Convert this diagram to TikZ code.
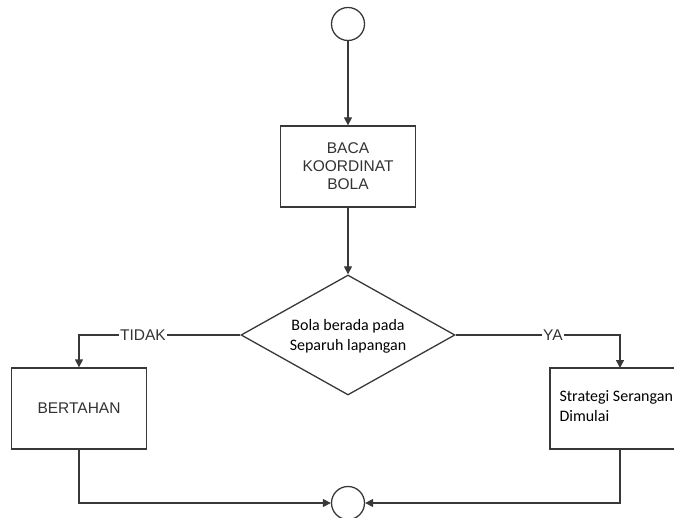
\documentclass[tikz,border=0pt]{standalone}
\usepackage{fontspec}
\newfontfamily\arialf{Liberation Sans}
\newfontfamily\calibf{Carlito}
\usetikzlibrary{shapes.geometric,arrows.meta}
\begin{document}
\begin{tikzpicture}[x=1pt,y=-1pt,
  ln/.style={draw=black!78, line width=1.3pt},
  arr/.style={ln, -{Triangle[length=8pt,width=8pt]}},
  box/.style={ln, rectangle, fill=white, inner sep=0pt},
  term/.style={ln, circle, minimum size=33pt, inner sep=0pt},
  dec/.style={ln, diamond, minimum width=214pt, minimum height=120pt, inner sep=0pt},
  atxt/.style={font=\arialf\fontsize{15.5}{18}\selectfont, text=black!80, align=center},
  ctxt/.style={font=\calibf\fontsize{16}{20}\selectfont, text=black},
  lab/.style={atxt, fill=white, inner sep=1pt}]
\useasboundingbox (0,0) rectangle (674,518);
\clip (0,0) rectangle (674,518);
\node[term] (start) at (348,24) {};
\node[box, minimum width=135pt, minimum height=81pt, atxt] (baca) at (348,166.5) {BACA\\KOORDINAT\\BOLA};
\node[dec] (cek) at (348,335) {};
\node[ctxt, align=center] (cekt) at (348,336) {Bola berada pada\\Separuh lapangan};
\node[box, minimum width=135pt, minimum height=81pt, atxt] (bert) at (79,408.5) {BERTAHAN};
\node[box, minimum width=150pt, minimum height=81pt] (serang) at (625,408.5) {};
\node[ctxt, align=left, anchor=west] (serangt) at (556,406.5) {Strategi Serangan\\Dimulai};
\node[term] (stop) at (348,503) {};
\coordinate (sN) at (620,368);
\coordinate (sS) at (620,449);
\draw[arr] (start) -- (baca);
\draw[arr] (baca) -- (cek);
\draw[arr] (cek.west) -| (bert.north);
\draw[arr] (cek.east) -| (sN);
\draw[arr] (bert.south) |- (stop.west);
\draw[arr] (sS) |- (stop.east);
\node[lab] (tidak) at (143,335) {TIDAK};
\node[lab] (ya) at (553,335) {YA};
\end{tikzpicture}
\end{document}
